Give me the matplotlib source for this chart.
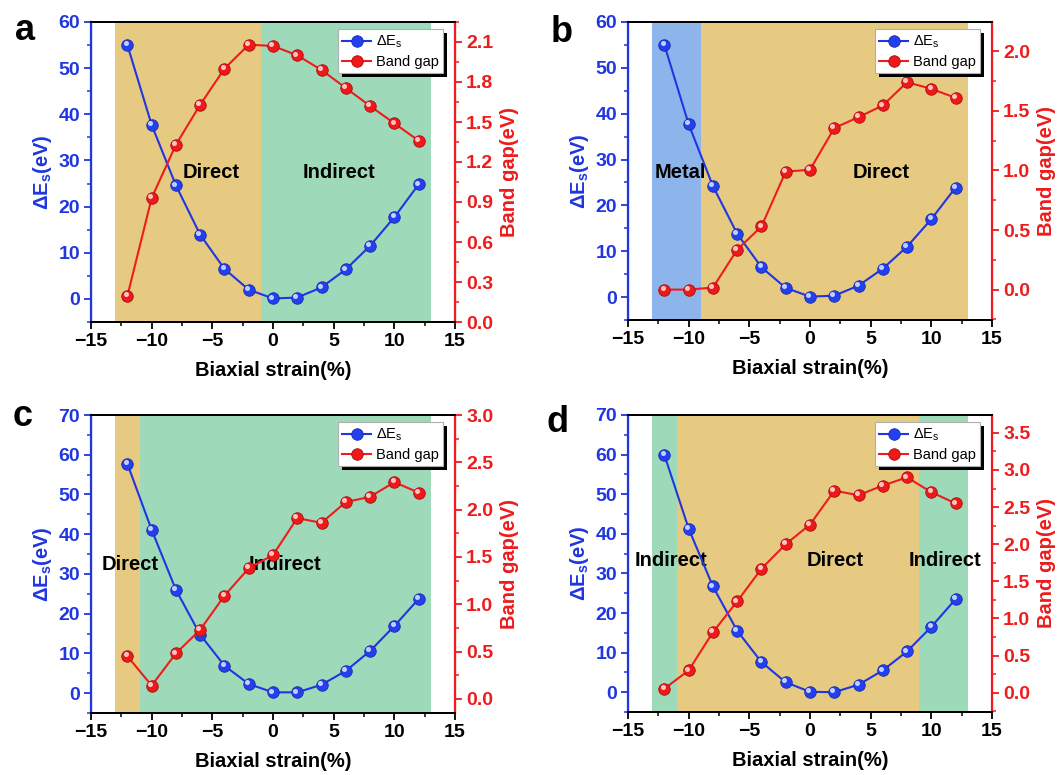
import matplotlib
matplotlib.use("Agg")
import matplotlib.pyplot as plt
from matplotlib.ticker import MultipleLocator, FormatStrFormatter
from matplotlib.transforms import offset_copy
from matplotlib.patches import Rectangle

plt.rcParams['font.family'] = ['Liberation Sans', 'DejaVu Sans']
plt.rcParams['font.weight'] = 'bold'
plt.rcParams['mathtext.fontset'] = 'custom'
plt.rcParams['mathtext.rm'] = 'Liberation Sans'
plt.rcParams['mathtext.bf'] = 'Liberation Sans:bold'
plt.rcParams['axes.unicode_minus'] = True

# ---------------- data ----------------
strain = [-12, -10, -8, -6, -4, -2, 0, 2, 4, 6, 8, 10, 12]

dEs_a = [55.0, 37.7, 24.6, 13.9, 6.5, 2.0, 0.1, 0.3, 2.5, 6.4, 11.5, 17.7, 24.8]
gap_a = [0.195, 0.93, 1.33, 1.63, 1.90, 2.08, 2.07, 2.00, 1.89, 1.755, 1.62, 1.49, 1.36]

dEs_b = [55.0, 37.7, 24.2, 13.8, 6.5, 2.0, 0.1, 0.3, 2.5, 6.2, 11.0, 17.0, 23.9]
gap_b = [0.0, 0.0, 0.017, 0.335, 0.53, 0.99, 1.005, 1.355, 1.447, 1.545, 1.74, 1.684, 1.609]

dEs_c = [57.7, 41.1, 26.0, 14.7, 6.9, 2.3, 0.2, 0.2, 2.1, 5.6, 10.6, 16.9, 23.7]
gap_c = [0.45, 0.14, 0.48, 0.73, 1.09, 1.38, 1.52, 1.91, 1.86, 2.08, 2.135, 2.29, 2.18]

dEs_d = [59.9, 41.3, 26.7, 15.5, 7.6, 2.5, 0.1, 0.0, 1.9, 5.5, 10.3, 16.5, 23.5]
gap_d = [0.054, 0.30, 0.815, 1.23, 1.67, 2.0, 2.265, 2.72, 2.66, 2.79, 2.90, 2.70, 2.55]

# regions: (start, end, kind)
regions_a = [(-13, -1, 'Direct'), (-1, 13, 'Indirect')]
regions_b = [(-13, -9, 'Metal'), (-9, 13, 'Direct')]
regions_c = [(-13, -11, 'Direct'), (-11, 13, 'Indirect')]
regions_d = [(-13, -11, 'Indirect'), (-11, 9, 'Direct'), (9, 13, 'Indirect')]

# region labels: (x, y, text)
labels_a = [(-5.1, 27.4, 'Direct'), (5.4, 27.4, 'Indirect')]
labels_b = [(-10.7, 27.2, 'Metal'), (5.9, 27.2, 'Direct')]
labels_c = [(-11.8, 32.5, 'Direct'), (1.0, 32.5, 'Indirect')]
labels_d = [(-11.5, 33.3, 'Indirect'), (2.1, 33.3, 'Direct'), (11.1, 33.3, 'Indirect')]

panels = ['a', 'b', 'c', 'd']

region_colors = {'Direct': '#e6ca82', 'Indirect': '#9ed9ba', 'Metal': '#8db5ec'}

BLUE = '#1f36e0'
RED = '#ee1c1c'
MBLUE = '#2340f0'
MRED = '#f01818'

fig = plt.figure(figsize=(10.62, 7.75), dpi=100)
W, H = 1062, 775

def rect(l, r, t, b):
    return [l / W, 1 - b / H, (r - l) / W, (b - t) / H]

rects = [rect(91, 455, 22, 322), rect(628, 992, 22, 320),
         rect(91, 455, 415, 713), rect(628, 992, 415, 712)]

configs = [
    (dEs_a, gap_a, regions_a, labels_a, (-5, 60), (0, 2.25), 0.3),
    (dEs_b, gap_b, regions_b, labels_b, (-5, 60), (-0.255, 2.245), 0.5),
    (dEs_c, gap_c, regions_c, labels_c, (-5, 70), (-0.15, 3.0), 0.5),
    (dEs_d, gap_d, regions_d, labels_d, (-5, 70), (-0.26, 3.74), 0.5),
]

letter_pos = [(25, 30), (562, 33), (23, 417), (558, 423)]

legends = []
for i, (dEs, gap, regs, labs, ylim1, ylim2, rstep) in enumerate(configs):
    ax = fig.add_axes(rects[i])
    ax2 = ax.twinx()
    for (s, e, k) in regs:
        ax.axvspan(s, e, color=region_colors[k], lw=0, zorder=0)
    for (x, y, t) in labs:
        ax.text(x, y, t, ha='center', va='center', fontsize=14.5,
                fontweight='bold', color='black', zorder=1)

    l1, = ax.plot(strain, dEs, '-', color=BLUE, lw=1.5, marker='o', ms=8.3,
                  mfc=MBLUE, mec='#1a2aa8', mew=0.6, zorder=3)
    hl = offset_copy(ax.transData, fig=fig, x=-1.3, y=1.3, units='points')
    ax.plot(strain, dEs, 'o', ms=2.6, color='#cfd8ff', alpha=0.9, transform=hl,
            zorder=4)

    l2, = ax2.plot(strain, gap, '-', color=RED, lw=1.5, marker='o', ms=8.3,
                   mfc=MRED, mec='#a81010', mew=0.6, zorder=3)
    hl2 = offset_copy(ax2.transData, fig=fig, x=-1.3, y=1.3, units='points')
    ax2.plot(strain, gap, 'o', ms=2.6, color='#ffd0d0', alpha=0.9, transform=hl2,
             zorder=4)

    ax.set_xlim(-15, 15)
    ax.set_ylim(*ylim1)
    ax2.set_ylim(*ylim2)

    ax.xaxis.set_major_locator(MultipleLocator(5))
    ax.xaxis.set_minor_locator(MultipleLocator(2.5))
    ax.yaxis.set_major_locator(MultipleLocator(10))
    ax.yaxis.set_minor_locator(MultipleLocator(5))
    ax2.yaxis.set_major_locator(MultipleLocator(rstep))
    ax2.yaxis.set_minor_locator(MultipleLocator(rstep / 2))
    ax2.yaxis.set_major_formatter(FormatStrFormatter('%.1f'))

    ax2.spines['left'].set_color(BLUE)
    ax2.spines['right'].set_color(RED)
    ax2.spines['left'].set_linewidth(1.6)
    ax2.spines['right'].set_linewidth(1.6)
    ax2.spines['top'].set_linewidth(1.4)
    ax2.spines['bottom'].set_linewidth(1.4)
    ax.spines['left'].set_color(BLUE)
    ax.spines['right'].set_color(RED)
    ax.spines['top'].set_linewidth(1.4)
    ax.spines['bottom'].set_linewidth(1.4)

    ax.tick_params(axis='x', which='major', direction='out', length=5, width=1.3,
                   labelsize=14, colors='black', pad=3)
    ax.tick_params(axis='x', which='minor', direction='out', length=3, width=1.1)
    ax.tick_params(axis='y', which='major', direction='out', length=5, width=1.3,
                   labelsize=14, colors=BLUE, pad=3)
    ax.tick_params(axis='y', which='minor', direction='out', length=3, width=1.1, colors=BLUE)
    ax2.tick_params(axis='y', which='major', direction='out', length=5, width=1.3,
                    labelsize=14, colors=RED, pad=3)
    ax2.tick_params(axis='y', which='minor', direction='out', length=3, width=1.1, colors=RED)
    for lab in ax.get_xticklabels() + ax.get_yticklabels() + ax2.get_yticklabels():
        lab.set_fontweight('bold')

    ax.set_xlabel('Biaxial strain(%)', fontsize=14.5, fontweight='bold', labelpad=8)
    ax.set_ylabel(r'ΔE$_\mathbf{s}$(eV)', fontsize=14.5, fontweight='bold', color=BLUE,
                  labelpad=3)
    ax2.set_ylabel('Band gap(eV)', fontsize=14.5, fontweight='bold', color=RED, labelpad=5)

    leg = ax2.legend([l1, l2], [r'ΔE$_\mathregular{s}$', 'Band gap'], loc='upper right',
                     bbox_to_anchor=(0.975, 0.985), fontsize=10.5, frameon=True,
                     fancybox=False, edgecolor='#b0b0b0', handlelength=2.0,
                     handletextpad=0.3, borderpad=0.3, labelspacing=0.3,
                     borderaxespad=0.2)
    leg.get_frame().set_linewidth(0.8)
    leg.get_frame().set_alpha(1.0)
    for t in leg.get_texts():
        t.set_fontweight('normal')
    leg.set_zorder(10)
    legends.append((ax2, leg))

    fig.text(letter_pos[i][0] / W, 1 - letter_pos[i][1] / H, panels[i], fontsize=26,
             fontweight='bold', ha='center', va='center')

# black drop shadow behind each legend
fig.canvas.draw()
for ax2, leg in legends:
    bb = leg.get_window_extent()
    off = 4
    sh = Rectangle((bb.x0 + off, bb.y0 - off), bb.width, bb.height,
                   transform=None, facecolor='black', edgecolor='none', zorder=9)
    ax2.add_artist(sh)

fig.savefig('out.png', dpi=100)
